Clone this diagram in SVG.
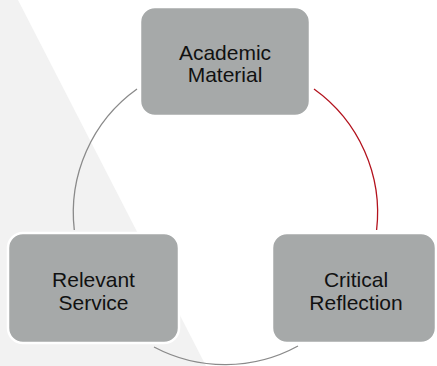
<svg xmlns="http://www.w3.org/2000/svg" width="437" height="366" viewBox="0 0 437 366">
  <style>
    .node rect { fill: #a6a9a9; stroke: #ffffff; stroke-width: 2.5; }
    .node text { font-family: "Liberation Sans", Arial, sans-serif; font-size: 21px; fill: #111111; text-anchor: middle; }
    .conn { fill: none; stroke-width: 1.3; }
    .gray { stroke: #8a8a8a; }
    .red { stroke: #b3121d; }
  </style>
  <rect x="0" y="0" width="437" height="366" fill="#ffffff"/>
  <polygon points="0,0 18,0 206,366 0,366" fill="#f2f2f2"/>
  <g id="connectors">
    <path class="conn gray" d="M 137 89 A 152 152 0 0 0 74.3 230"/>
    <path class="conn red" d="M 314 89 A 152 152 0 0 1 376.6 230"/>
    <path class="conn gray" d="M 298 346 A 152 152 0 0 1 154 347"/>
  </g>
  <g id="academic-material" class="node">
    <rect x="140" y="7" width="170" height="109" rx="15"/>
    <text x="225" y="59.5">Academic</text>
    <text x="225" y="82">Material</text>
  </g>
  <g id="relevant-service" class="node">
    <rect x="8" y="233" width="171" height="110" rx="15"/>
    <text x="93.5" y="287">Relevant</text>
    <text x="93.5" y="309.5">Service</text>
  </g>
  <g id="critical-reflection" class="node">
    <rect x="272" y="233" width="164" height="110" rx="15"/>
    <text x="356" y="287">Critical</text>
    <text x="356" y="309.5">Reflection</text>
  </g>
</svg>
